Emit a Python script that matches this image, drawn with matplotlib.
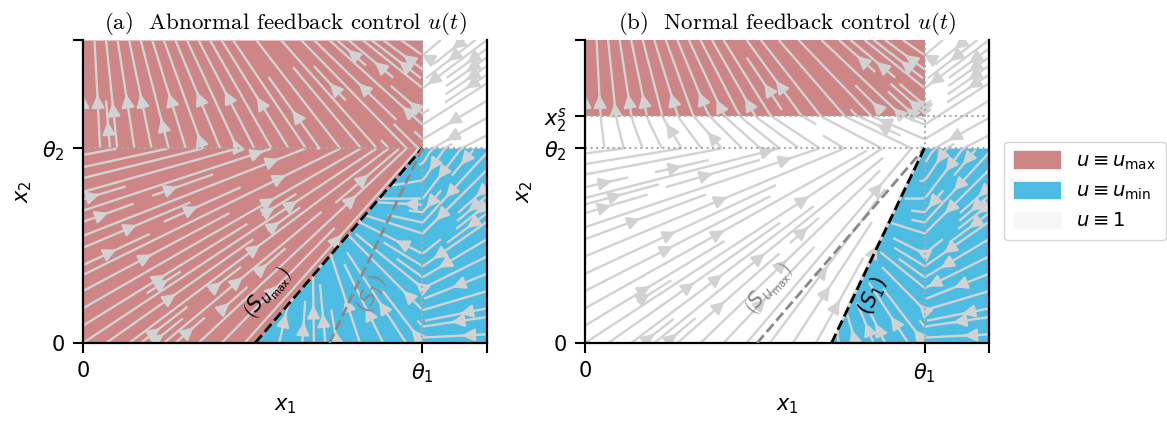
import numpy as np
import matplotlib
matplotlib.use("Agg")
import matplotlib.pyplot as plt
from matplotlib.patches import Patch

plt.rcParams['font.family'] = ['DejaVu Sans']
plt.rcParams['mathtext.fontset'] = 'dejavusans'

# thresholds (scaled to 1) and axis limits
theta1, theta2 = 1.0, 1.0
x1_max, x2_max = 1.19, 1.554
x2_s = 1.165

# switching curves: they start on the x1 axis and end in (theta1, theta2)
s_umax_x0 = 0.507
s_1_x0 = 0.726

# focal points of the piecewise affine flow, per control value
F_umax = [1.17, 1.35]     # x1 < theta1, x2 < theta2
F_one = [1.07, 1.22]
F_umin = [0.675, 0.74]
F2_up_umax = 2.7          # x1 < theta1, x2 > theta2 -> focal (0, F2)
F2_up_one = 1.8
F1_right_umin = 0.675     # x1 > theta1, x2 < theta2 -> focal (F1, 0)
gamma = [1.0, 1.0]

col_umax = '#cd8585'
col_umin = '#4dbce2'
col_one = '#f7f7f7'
col_stream = '#d2d2d2'


def field(X1, X2, pink, blue):
    ll = (X1 < theta1) & (X2 < theta2)
    ul = (X1 < theta1) & (X2 >= theta2)
    lr = (X1 >= theta1) & (X2 < theta2)
    F1 = np.select([ll & pink, ll & blue, ll, ul, lr],
                   [F_umax[0], F_umin[0], F_one[0], 0.0, F1_right_umin], 0.0)
    F2 = np.select([ll & pink, ll & blue, ll, ul & pink, ul, lr],
                   [F_umax[1], F_umin[1], F_one[1], F2_up_umax, F2_up_one, 0.0], 0.0)
    return gamma[0] * (F1 - X1), gamma[1] * (F2 - X2)


def line_x(x0, y):
    return x0 + (theta1 - x0) * y / theta2


def setup(ax, title, yticks, ylabels):
    ax.set_xlim(0, x1_max)
    ax.set_ylim(0, x2_max)
    ax.set_xticks([0, theta1, x1_max], ['0', r'$\theta_1$', ''])
    ax.set_yticks(yticks, ylabels)
    ax.tick_params(length=7, width=1.5, labelsize=15, pad=6)
    for s in ['left', 'bottom', 'right']:
        ax.spines[s].set_linewidth(1.6)
    ax.spines['top'].set_visible(False)
    ax.set_xlabel(r'$x_1$', fontsize=15, labelpad=8)
    ax.set_ylabel(r'$x_2$', fontsize=15, labelpad=6)
    ax.set_title(title, fontsize=16.5, family='cmr10', math_fontfamily='cm', pad=8)


x = np.linspace(0, x1_max, 400)
y = np.linspace(0, x2_max, 400)
X1, X2 = np.meshgrid(x, y)

fig = plt.figure(figsize=(11.67, 4.24), dpi=100)
ax_a = fig.add_axes([0.0711, 0.191, 0.3462, 0.7147])
ax_b = fig.add_axes([0.5013, 0.191, 0.3462, 0.7147])

# ---- (a) abnormal control
pink_a = (X1 < theta1) & ((X2 >= theta2) | (X1 < line_x(s_umax_x0, X2)))
blue_a = (X2 < theta2) & ~pink_a
ax_a.fill_between([0, s_umax_x0, theta1], [0, 0, theta2], x2_max, color=col_umax, lw=0, zorder=0)
ax_a.fill_between([s_umax_x0, theta1, theta1, x1_max], 0, [0, theta2, theta2, theta2],
                  color=col_umin, lw=0, zorder=0)
U, V = field(X1, X2, pink_a, blue_a)
ax_a.streamplot(x, y, U, V, density=1.2, color=col_stream, linewidth=1.7, arrowsize=1.9, zorder=1)

# ---- (b) normal control
pink_b = (X1 < theta1) & (X2 >= x2_s)
blue_b = (X2 < theta2) & (X1 > line_x(s_1_x0, X2))
ax_b.fill_between([0, theta1], x2_s, x2_max, color=col_umax, lw=0, zorder=0)
ax_b.fill_between([s_1_x0, theta1, x1_max], 0, [0, theta2, theta2], color=col_umin, lw=0, zorder=0)
U, V = field(X1, X2, pink_b, blue_b)
ax_b.streamplot(x, y, U, V, density=1.2, color=col_stream, linewidth=1.7, arrowsize=1.9, zorder=1)

for ax in (ax_a, ax_b):
    ax.axhline(theta2, color='#aaaaaa', ls=':', lw=1.5, zorder=2)
    ax.axvline(theta1, color='#aaaaaa', ls=':', lw=1.5, zorder=2)
ax_b.axhline(x2_s, color='#aaaaaa', ls=':', lw=1.5, zorder=2)

# switching curves
ang_umax = np.degrees(np.arctan2(theta2, theta1 - s_umax_x0))
ang_1 = np.degrees(np.arctan2(theta2, theta1 - s_1_x0))
ax_a.plot([s_umax_x0, theta1], [0, theta2], color='black', ls='--', lw=2, zorder=3)
ax_a.plot([s_1_x0, theta1], [0, theta2], color='#888888', ls='--', lw=2, zorder=3)
ax_b.plot([s_umax_x0, theta1], [0, theta2], color='#888888', ls='--', lw=2, zorder=3)
ax_b.plot([s_1_x0, theta1], [0, theta2], color='black', ls='--', lw=2, zorder=3)

lab_umax = r'$\left(S_{u_{\max}}\right)$'
lab_1 = r'$\left(S_1\right)$'
ax_a.text(0.545, 0.255, lab_umax, color='black', fontsize=15, rotation=ang_umax,
          transform_rotates_text=True, ha='center', va='center', rotation_mode='anchor', zorder=4)
ax_a.text(0.85, 0.25, lab_1, color='#888888', fontsize=15, rotation=ang_1,
          transform_rotates_text=True, ha='center', va='center', rotation_mode='anchor', zorder=4)
ax_b.text(0.543, 0.277, lab_umax, color='#888888', fontsize=15, rotation=ang_umax,
          transform_rotates_text=True, ha='center', va='center', rotation_mode='anchor', zorder=4)
ax_b.text(0.847, 0.241, lab_1, color='black', fontsize=15, rotation=ang_1,
          transform_rotates_text=True, ha='center', va='center', rotation_mode='anchor', zorder=4)

setup(ax_a, r'(a)  Abnormal feedback control $u(t)$', [0, theta2, x2_max], ['0', r'$\theta_2$', ''])
setup(ax_b, r'(b)  Normal feedback control $u(t)$', [0, theta2, x2_s, x2_max],
      ['0', r'$\theta_2$', r'$x_2^s$', ''])

handles = [Patch(color=col_umax, label=r'$u \equiv u_{\max}$'),
           Patch(color=col_umin, label=r'$u \equiv u_{\min}$'),
           Patch(color=col_one, label=r'$u \equiv 1$')]
fig.legend(handles=handles, loc='center left', bbox_to_anchor=(0.852, 0.55), fontsize=14,
           handlelength=2.4, handleheight=0.9, handletextpad=0.8, borderpad=0.5,
           labelspacing=0.5, edgecolor='#cccccc')

fig.savefig('out.png', dpi=100)
